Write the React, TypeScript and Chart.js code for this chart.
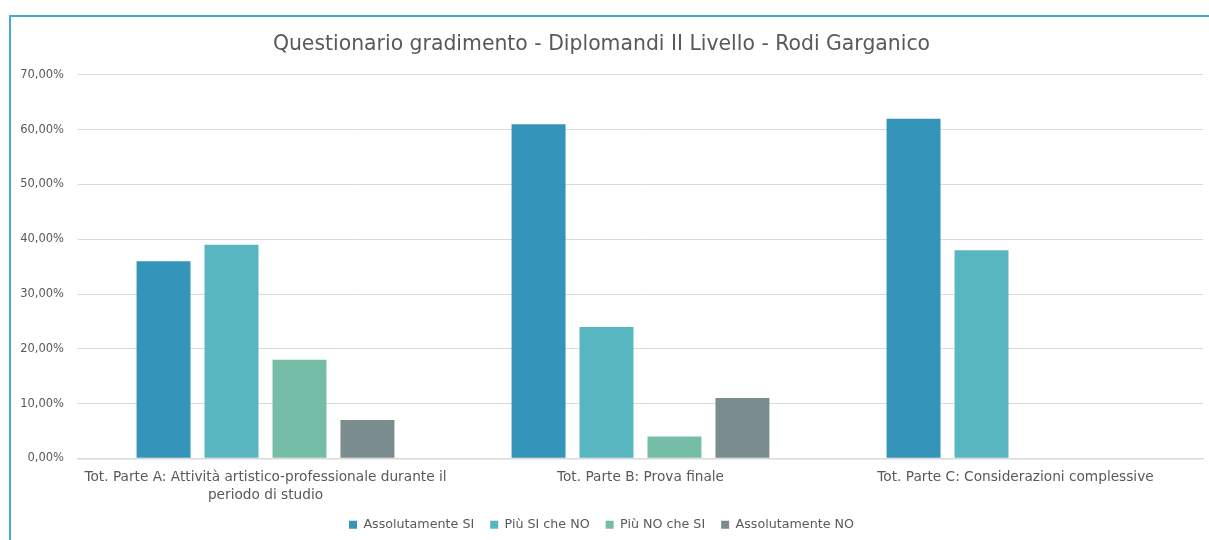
import React, { useEffect, useRef } from "react";
import { Chart, registerables } from "chart.js";

Chart.register(...registerables);

const categories: string[][] = [
  ["Tot. Parte A: Attività artistico-professionale durante il", "periodo di studio"],
  ["Tot. Parte B: Prova finale"],
  ["Tot. Parte C: Considerazioni complessive"],
];
const seriesNames = ["Assolutamente SI", "Più SI che NO", "Più NO che SI", "Assolutamente NO"];
const assolutamenteSi = [36, 61, 62];
const piuSiCheNo = [39, 24, 38];
const piuNoCheSi = [18, 4, 0];
const assolutamenteNo = [7, 11, 0];
const seriesColors = ["#3494BA", "#58B6C0", "#75BDA7", "#7A8C8E"];
const titleText = "Questionario gradimento - Diplomandi II Livello - Rodi Garganico";

const FONT = "'DejaVu Sans', sans-serif";
const TEXT = "#595959";

export default function App() {
  const ref = useRef<HTMLCanvasElement | null>(null);
  useEffect(() => {
    if (!ref.current) return;
    const values = [assolutamenteSi, piuSiCheNo, piuNoCheSi, assolutamenteNo];
    const chart = new Chart(ref.current, {
      type: "bar",
      data: {
        labels: categories,
        datasets: seriesNames.map((n, i) => ({
          label: n,
          data: values[i],
          backgroundColor: seriesColors[i],
          borderWidth: 0,
          barPercentage: 0.794,
          categoryPercentage: 0.725,
        })),
      },
      options: {
        animation: false,
        responsive: false,
        maintainAspectRatio: false,
        layout: { padding: { left: 0, right: 6, top: 0, bottom: -1 } },
        plugins: {
          tooltip: { enabled: false },
          title: {
            display: true,
            text: titleText,
            color: TEXT,
            font: { family: FONT, size: 20.4, weight: "normal", lineHeight: 1.2 },
            padding: { top: 32, bottom: 18.5 },
          },
          legend: {
            position: "bottom",
            labels: {
              color: TEXT,
              font: { family: FONT, size: 12.7 },
              boxWidth: 8,
              boxHeight: 8,
              padding: 16,
            },
          },
        },
        scales: {
          x: {
            afterFit: (s: any) => {
              s.height = 44;
            },
            grid: { display: false },
            border: { color: "#D9D9D9", width: 1.5 },
            ticks: {
              color: TEXT,
              font: { family: FONT, size: 13.7, lineHeight: 1.25 },
              maxRotation: 0,
              autoSkip: false,
              padding: 3,
            },
          },
          y: {
            min: 0,
            max: 70,
            afterFit: (s: any) => {
              s.width = 78;
            },
            grid: { color: "#D9D9D9", drawTicks: false },
            border: { display: false },
            ticks: {
              stepSize: 10,
              color: TEXT,
              font: { family: FONT, size: 11.5 },
              padding: 14,
              callback: (v: any) => Number(v).toFixed(2).replace(".", ",") + "%",
            },
          },
        },
      },
    });
    return () => chart.destroy();
  }, []);
  return (
    <div style={{ position: "fixed", left: 0, top: 0, width: 1209, height: 540, overflow: "hidden", background: "#fff" }}>
      <div
        style={{
          position: "absolute",
          left: 9,
          top: 15,
          width: 1400,
          height: 700,
          borderTop: "2px solid #4BA7CC",
          borderLeft: "2px solid #4BA7CC",
        }}
      />
      <canvas ref={ref} width={1209} height={540} style={{ position: "absolute", left: 0, top: 0 }} />
    </div>
  );
}
